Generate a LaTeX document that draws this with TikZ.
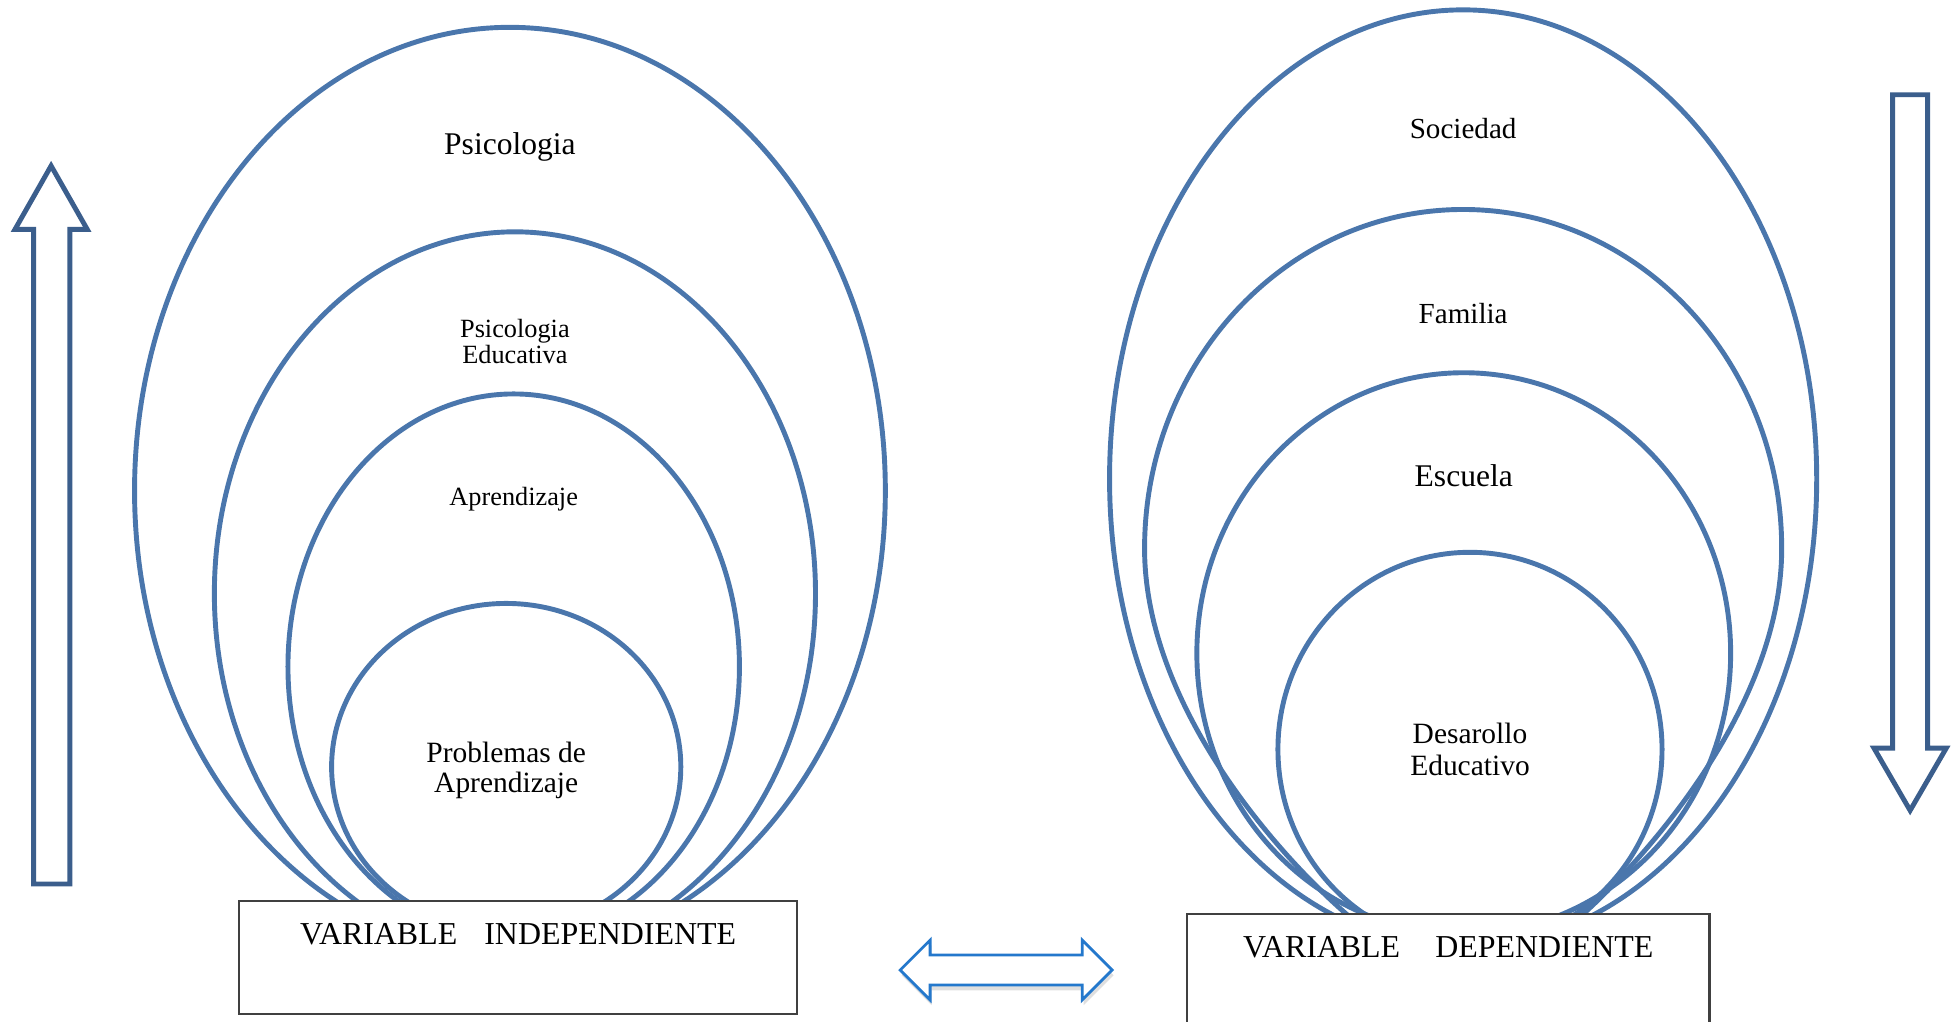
\documentclass[tikz,border=0pt]{standalone}
\usepackage{fontspec}
\setmainfont{Liberation Serif}
\usetikzlibrary{shapes.geometric,positioning,shadows}

\definecolor{ringblue}{RGB}{74,118,172}
\definecolor{arrowblue}{RGB}{59,94,140}
\definecolor{linkblue}{RGB}{36,120,204}
\definecolor{boxgray}{RGB}{64,64,64}

\begin{document}
\begin{tikzpicture}[x=0.0125cm, y=-0.0125cm, on grid,
  ring/.style={ellipse, draw=ringblue, line width=1.4pt, inner sep=0pt},
  ringline/.style={draw=ringblue, line width=1.4pt},
  varbox/.style={rectangle, draw=boxgray, fill=white, line width=0.6pt, inner sep=0pt},
  lbl/.style={inner sep=0pt, align=center},
  bigarrow/.style={draw=arrowblue, fill=white, line width=1.4pt},
  linkarrow/.style={draw=linkblue, fill=white, line width=0.8pt,
    drop shadow={opacity=0.25, shadow xshift=0.4pt, shadow yshift=-1.5pt}}]
  \useasboundingbox (0,0) rectangle (1568,819);

  % left rings
  \node[ring, minimum width=7.525cm, minimum height=9.2875cm] (psico) at (409,393.5) {};
  \node[ring, minimum width=6.025cm, minimum height=7.25cm] (psicoedu) at (413,476) {};
  \node[ring, minimum width=4.525cm, minimum height=5.4675cm] (aprend) at (412,534.7) {};
  \node[ring, minimum width=3.5cm, minimum height=3.275cm] (problemas) at (406,615) {};

  % right rings
  \node[ring, minimum width=7.0875cm, minimum height=9.4cm] (sociedad) at (1173.5,384) {};
  \coordinate (familia) at (1173.5,168);
  \draw[ringline] (918,440) arc[start angle=180, end angle=360, x radius=255.5, y radius=272]
    .. controls (1429,565) and (1322,688) .. (1262,740)
    -- (1088,740)
    .. controls (1025,688) and (918,565) .. (918,440) -- cycle;
  \node[ring, minimum width=5.35cm, minimum height=5.625cm] (escuela) at (1174,524) {};
  \node[ring, minimum width=3.85cm, minimum height=3.95cm] (desarrollo) at (1179,601) {};

  % boxes
  \node[varbox, minimum width=5.5875cm, minimum height=1.125cm] (indep) at (415.5,768) {};
  \node[varbox, minimum width=5.2375cm, minimum height=1.3375cm] (dep) at (1161.5,786.5) {};
  \node[lbl, font=\fontsize{9.1}{9.1}\selectfont] (indeptxt) [below=0.225cm of indep.north]
    {VARIABLE\hspace{0.85em}INDEPENDIENTE};
  \node[lbl, font=\fontsize{9.1}{9.1}\selectfont] (deptxt) [below=0.225cm of dep.north]
    {VARIABLE\hspace{1.1em}DEPENDIENTE};

  % labels
  \node[lbl, font=\fontsize{9}{9}\selectfont] (psicotxt) [below=1.075cm of psico.north] {Psicologia};
  \node[lbl, font=\fontsize{7.5}{7.5}\selectfont] (psicoedutxt) [below=0.894cm of psicoedu.north]
    {Psicologia\\Educativa};
  \node[lbl, font=\fontsize{7.5}{7.5}\selectfont] (aprendtxt) [below=0.95cm of aprend.north] {Aprendizaje};
  \node[lbl, font=\fontsize{8.4}{8.5}\selectfont] (problemastxt) [below=0.0375cm of problemas] {Problemas de\\Aprendizaje};
  \node[lbl, font=\fontsize{8.3}{8.3}\selectfont] (sociedadtxt) [below=1.1cm of sociedad.north] {Sociedad};
  \node[lbl, font=\fontsize{8.3}{8.3}\selectfont] (familiatxt) [below=0.9375cm of familia] {Familia};
  \node[lbl, font=\fontsize{9}{9}\selectfont] (escuelatxt) [below=0.9375cm of escuela.north] {Escuela};
  \node[lbl, font=\fontsize{8.4}{8.9}\selectfont] (desarrollotxt) at (desarrollo) {Desarollo\\Educativo};

  % arrows
  \draw[bigarrow] (27,709) -- (27,184) -- (12,184) -- (41,133) -- (70,184) -- (56,184) -- (56,709) -- cycle;
  \draw[bigarrow] (1518,76) -- (1546,76) -- (1546,600) -- (1561,600) -- (1532,650) -- (1503,600) -- (1518,600) -- cycle;
  \draw[linkarrow] (722,778) -- (746,754) -- (746,766) -- (868,766) -- (868,754) -- (892,778)
    -- (868,802) -- (868,790) -- (746,790) -- (746,802) -- cycle;
\end{tikzpicture}
\end{document}
